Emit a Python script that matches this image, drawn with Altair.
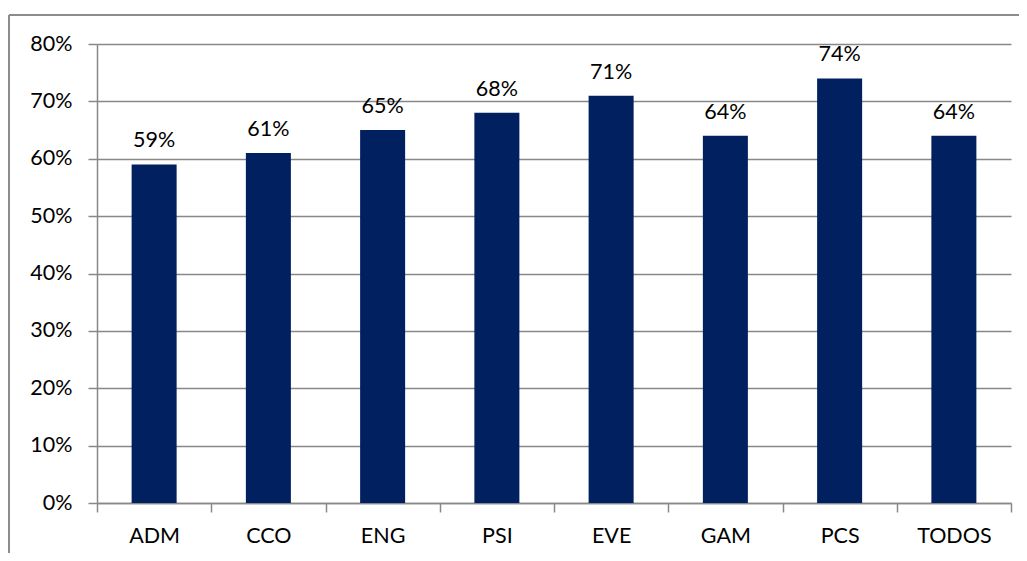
import altair as alt
import pandas as pd

categories = ["ADM", "CCO", "ENG", "PSI", "EVE", "GAM", "PCS", "TODOS"]
values = [0.59, 0.61, 0.65, 0.68, 0.71, 0.64, 0.74, 0.64]
y_ticks = [0, 0.1, 0.2, 0.3, 0.4, 0.5, 0.6, 0.7, 0.8]

df = pd.DataFrame({"cat": categories, "val": values})

W, H = 914, 459
FONT = "Lato"
FS = 21.5
GRAY = "#888888"

x = alt.X("cat:N", sort=categories, title=None,
          scale=alt.Scale(paddingInner=0, paddingOuter=0),
          axis=alt.Axis(tickBand="extent", labelAngle=0, labelFontSize=FS, labelFont=FONT,
                        labelColor="#000000", tickSize=9, tickColor=GRAY, tickWidth=1.5,
                        domainColor=GRAY, domainWidth=1.5, labelPadding=13, grid=False))
y = alt.Y("val:Q", title=None,
          scale=alt.Scale(domain=[0, 0.8], nice=False),
          axis=alt.Axis(values=y_ticks, format=".0%", labelFontSize=FS, labelFont=FONT,
                        labelColor="#000000", tickSize=9, tickColor=GRAY, tickWidth=1.5,
                        domainColor=GRAY, domainWidth=1.5, gridColor=GRAY, gridWidth=1.5,
                        grid=True, labelPadding=16))

bars = alt.Chart(df).mark_bar(color="#002060", width=alt.RelativeBandSize(0.394)).encode(x=x, y=y)
labels = alt.Chart(df).mark_text(font=FONT, fontSize=FS, color="#000000",
                                 baseline="alphabetic", dy=-17).encode(
    x=alt.X("cat:N", sort=categories), y="val:Q", text=alt.Text("val:Q", format=".0%"))

frame_df = pd.DataFrame({"k": [0]})
top = alt.Chart(frame_df).mark_rule(color="#8c8c8c", strokeWidth=2).encode(
    x=alt.value(-88), x2=alt.value(1000), y=alt.value(-29))
left = alt.Chart(frame_df).mark_rule(color="#8c8c8c", strokeWidth=2).encode(
    x=alt.value(-88), y=alt.value(-29), y2=alt.value(700))

chart = alt.layer(bars, labels, top, left).properties(
    width=W, height=H,
    autosize=alt.AutoSizeParams(type="none"),
    padding={"left": 89, "top": 36, "right": 8, "bottom": 50},
).configure_view(stroke=None)

chart.save("out.html", embed_options={"renderer": "svg", "actions": False})
